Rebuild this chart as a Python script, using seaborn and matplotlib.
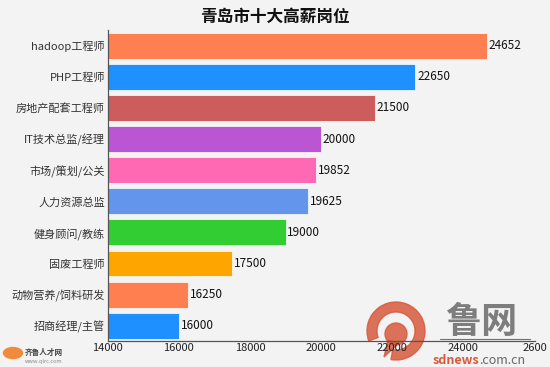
import matplotlib
matplotlib.use("Agg")
import matplotlib.pyplot as plt
import matplotlib.patches as mpatches
import numpy as np
import pandas as pd
import seaborn as sns

# data (top to bottom)
jobs = [
    "hadoop工程师",
    "PHP工程师",
    "房地产配套工程师",
    "IT技术总监/经理",
    "市场/策划/公关",
    "人力资源总监",
    "健身顾问/教练",
    "固废工程师",
    "动物营养/饲料研发",
    "招商经理/主管",
]
salaries = [24652, 22650, 21500, 20000, 19852, 19625, 19000, 17500, 16250, 16000]
bar_colors = [
    "#ff7f50", "#1e90ff", "#cd5c5c", "#ba55d3", "#ff69b4",
    "#6495ed", "#32cd32", "#ffa500", "#ff7f50", "#1e90ff",
]
x_ticks = [14000, 16000, 18000, 20000, 22000, 24000, 26000]
x_tick_labels = ["14000", "16000", "18000", "20000", "22000", "24000", "2600"]

sns.set_theme(style="white")
plt.rcParams["font.family"] = ["Noto Sans CJK SC", "DejaVu Sans"]

bg = "#f3f3f3"
fig = plt.figure(figsize=(5.5, 3.67), dpi=100, facecolor=bg)

# watermarks, drawn on a pixel-scaled overlay behind the chart
ov = fig.add_axes([0, 0, 1, 1])
ov.set_zorder(0)
ov.set_xlim(0, 550)
ov.set_ylim(367, 0)
ov.axis("off")
ov.patch.set_alpha(0)

red = "#d65a3d"
ov.add_patch(mpatches.Wedge((396, 331), 29, 160, 460, width=10, color=red, alpha=0.85))
ov.add_patch(mpatches.Circle((396, 334), 11, color=red, alpha=0.85))
ov.add_patch(mpatches.Polygon([(388, 340), (399, 343), (384, 357)], color=red, alpha=0.85))
ov.text(481, 322, "鲁网", ha="center", va="center", fontsize=26,
        fontweight="bold", color="#707070", alpha=0.9)
ov.plot([440, 530], [339, 339], color="#707070", lw=0.8)
ov.text(479, 360, "sdnews", ha="right", va="center", fontsize=9,
        fontweight="bold", color=red)
ov.text(479, 360, ".com.cn", ha="left", va="center", fontsize=9,
        color="#666666")

ov.add_patch(mpatches.Ellipse((13, 353), 19, 11, color="#f08a3c"))
ov.text(25, 352, "齐鲁人才网", ha="left", va="center", fontsize=5.5,
        fontweight="bold", color="#444444")
ov.text(25, 361, "www.qlrc.com", ha="left", va="center", fontsize=4,
        color="#888888")

ax = fig.add_axes([0.196, 0.07, 0.776, 0.848])
ax.set_zorder(1)
ax.patch.set_alpha(0)

df = pd.DataFrame({"job": jobs, "salary": salaries})
sns.barplot(
    data=df, x="salary", y="job", hue="job", palette=bar_colors,
    legend=False, orient="h", width=0.83, saturation=1, ax=ax,
    edgecolor="#ffffff", linewidth=0.5,
)

ax.set_xlim(14000, 26000)
ax.set_ylim(9.5, -0.5)
ax.set_xticks(x_ticks)
ax.set_xticklabels(x_tick_labels, fontsize=8, color="#222222")
ax.tick_params(axis="x", length=0, pad=1)
ax.tick_params(axis="y", length=0, labelsize=8, labelcolor="#333333", pad=2)
ax.set_yticks(np.arange(-0.5, 10, 1), minor=True)
ax.tick_params(axis="y", which="minor", length=3, color="#555555", direction="out")
ax.set_xlabel("")
ax.set_ylabel("")

for side in ["top", "right"]:
    ax.spines[side].set_visible(False)
for side in ["left", "bottom"]:
    ax.spines[side].set_color("#555555")
    ax.spines[side].set_linewidth(0.9)

for i, v in enumerate(salaries):
    ax.text(v + 50, i, str(v), va="center", ha="left", fontsize=8.5, color="#111111")

fig.text(0.5, 0.955, "青岛市十大高薪岗位", ha="center", va="center",
         fontsize=12, fontweight="bold", color="#111111")

fig.savefig("out.png", dpi=100, facecolor=bg)
